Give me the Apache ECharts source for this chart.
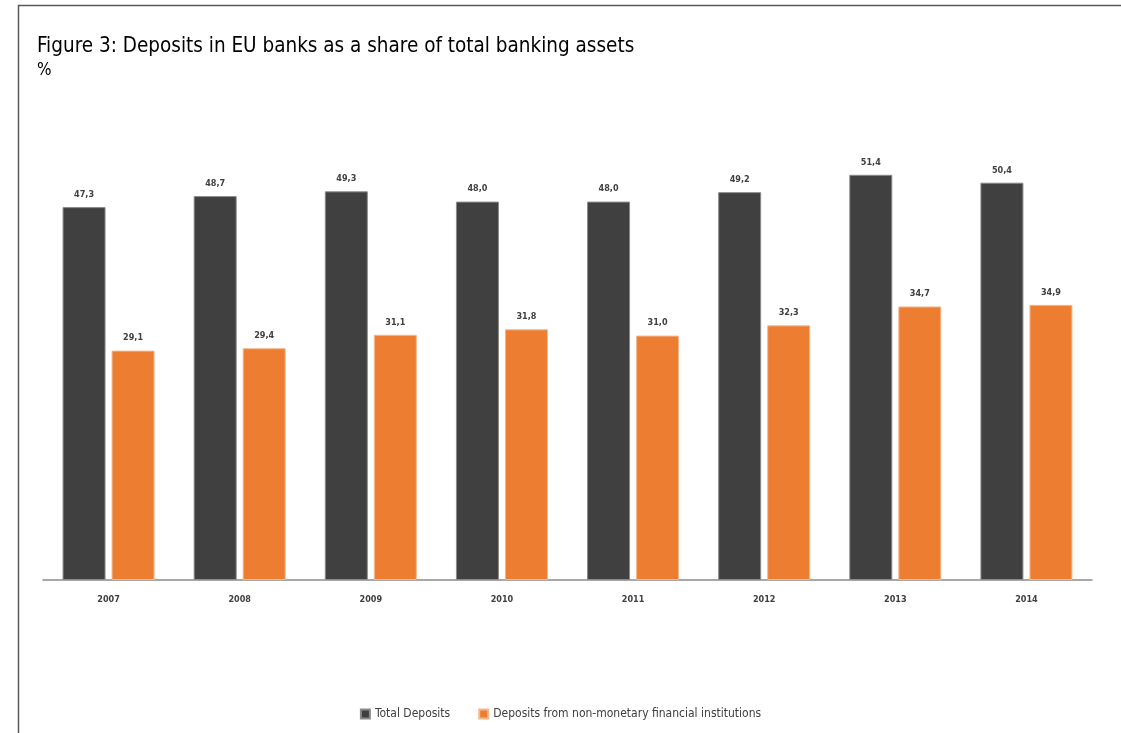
<!DOCTYPE html>
<html>
<head>
<meta charset="utf-8">
<script src="https://cdn.jsdelivr.net/npm/echarts@6/dist/echarts.min.js"></script>
<style>
  html, body { margin: 0; padding: 0; background: #ffffff; }
  #chart { width: 1121px; height: 733px; }
</style>
</head>
<body>
<div id="chart"></div>
<script>
// Years on the category axis
const years = ['2007', '2008', '2009', '2010', '2011', '2012', '2013', '2014'];
// Total deposits, % of total banking assets
const totalDeposits = [47.3, 48.7, 49.3, 48.0, 48.0, 49.2, 51.4, 50.4];
// Deposits from non-monetary financial institutions, % of total banking assets
const nmfiDeposits = [29.1, 29.4, 31.1, 31.8, 31.0, 32.3, 34.7, 34.9];
// Series names shown in the legend
const seriesNames = ['Total Deposits', 'Deposits from non-monetary financial institutions'];

const fmt = p => p.value.toFixed(1).replace('.', ',');

const chart = echarts.init(document.getElementById('chart'), null, { renderer: 'canvas' });

const labelStyle = {
  show: true,
  position: 'top',
  distance: 8,
  formatter: fmt,
  fontFamily: 'DejaVu Sans Condensed',
  fontSize: 9,
  fontWeight: 'bold',
  color: '#404040'
};

chart.setOption({
  animation: false,
  backgroundColor: '#ffffff',
  graphic: [
    {
      type: 'rect',
      shape: { x: 18.5, y: 5.5, width: 1130, height: 760 },
      style: { fill: 'none', stroke: '#5a5a5a', lineWidth: 1.5 },
      silent: true
    }
  ],
  title: {
    text: 'Figure 3: Deposits in EU banks as a share of total banking assets',
    subtext: '%',
    left: 32,
    top: 31,
    itemGap: 5,
    textStyle: {
      fontFamily: 'DejaVu Sans Condensed',
      fontSize: 20.5,
      fontWeight: 'normal',
      color: '#000000'
    },
    subtextStyle: {
      fontFamily: 'DejaVu Sans Condensed',
      fontSize: 17,
      color: '#000000'
    }
  },
  legend: {
    data: seriesNames,
    bottom: 8,
    left: 'center',
    itemWidth: 9,
    itemHeight: 9,
    itemGap: 28,
    icon: 'rect',
    textStyle: {
      fontFamily: 'DejaVu Sans Condensed',
      fontSize: 12,
      color: '#404040'
    }
  },
  grid: {
    left: 43,
    right: 29,
    top: 107,
    bottom: 153,
    containLabel: false
  },
  xAxis: {
    type: 'category',
    data: years,
    axisLine: { show: true, lineStyle: { color: '#8c8c8c', width: 1.5 } },
    axisTick: { show: false },
    axisLabel: {
      margin: 15,
      fontFamily: 'DejaVu Sans Condensed',
      fontSize: 9,
      fontWeight: 'bold',
      color: '#404040'
    }
  },
  yAxis: {
    type: 'value',
    min: 0,
    max: 60,
    show: false,
    splitLine: { show: false }
  },
  series: [
    {
      name: seriesNames[0],
      type: 'bar',
      data: totalDeposits,
      barWidth: 43,
      barGap: '14%',
      itemStyle: { color: '#404040', borderColor: '#8a8a8a', borderWidth: 1 },
      label: labelStyle
    },
    {
      name: seriesNames[1],
      type: 'bar',
      data: nmfiDeposits,
      barWidth: 43,
      itemStyle: { color: '#ED7D31', borderColor: '#f5b88e', borderWidth: 1 },
      label: labelStyle
    }
  ]
});
</script>
</body>
</html>
